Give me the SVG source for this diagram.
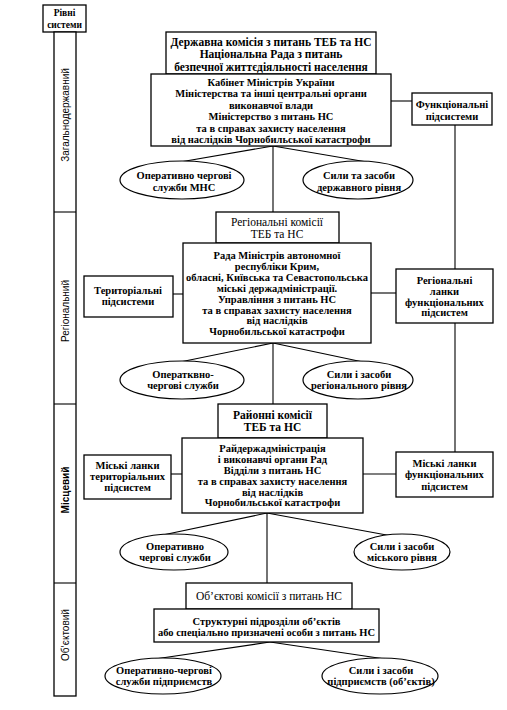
<svg xmlns="http://www.w3.org/2000/svg" width="507" height="710" viewBox="0 0 507 710">
<style>
  .box { fill: #fff; stroke: #000; stroke-width: 1.3; }
  .ell { fill: #fff; stroke: #000; stroke-width: 1.2; }
  .ln { stroke: #000; stroke-width: 1.1; fill: none; }
  text { font-family: "Liberation Serif", "Times New Roman", serif; fill: #000; text-anchor: middle; dominant-baseline: central; }
  .b { font-weight: bold; font-size: 10.5px; }
  .h { font-weight: bold; font-size: 11.5px; }
  .r { font-size: 11.5px; }
  .e { font-weight: bold; font-size: 10.5px; }
  .lv { font-family: "Liberation Sans", Arial, sans-serif; font-size: 10px; }
</style>
<rect width="507" height="710" fill="#fff"/>

<g id="levels">
  <rect class="box" x="43" y="5" width="43" height="27"/>
  <text class="b" x="64.5" y="12.5" style="font-size:9.5px">Рівні</text>
  <text class="b" x="64.5" y="25" style="font-size:9.5px">системи</text>
  <rect class="box" x="54" y="32" width="22" height="664"/>
  <line class="ln" x1="54" y1="212" x2="76" y2="212"/>
  <line class="ln" x1="54" y1="404" x2="76" y2="404"/>
  <line class="ln" x1="54" y1="583" x2="76" y2="583"/>
  <text class="lv" transform="translate(65,115) rotate(-90)">Загальнодержавний</text>
  <text class="lv" transform="translate(65,311) rotate(-90)">Регіональний</text>
  <text class="lv" transform="translate(65,490) rotate(-90)" style="font-weight:bold">Місцевий</text>
  <text class="lv" transform="translate(65,635) rotate(-90)">Об’єктовий</text>
</g>

<g id="connectors">
  <line class="ln" x1="391" y1="101" x2="412" y2="101"/>
  <line class="ln" x1="455" y1="125" x2="455" y2="269"/>
  <line class="ln" x1="455" y1="323" x2="455" y2="452"/>
  <line class="ln" x1="273" y1="146" x2="273" y2="212"/>
  <line class="ln" x1="273" y1="146" x2="180" y2="162"/>
  <line class="ln" x1="273" y1="146" x2="367" y2="162"/>
  <line class="ln" x1="173" y1="294" x2="183" y2="294"/>
  <line class="ln" x1="371" y1="293" x2="396" y2="293"/>
  <line class="ln" x1="273" y1="343" x2="273" y2="404"/>
  <line class="ln" x1="273" y1="343" x2="180" y2="362"/>
  <line class="ln" x1="273" y1="343" x2="363" y2="362"/>
  <line class="ln" x1="171" y1="474" x2="182" y2="474"/>
  <line class="ln" x1="363" y1="474" x2="396" y2="474"/>
  <line class="ln" x1="267" y1="513" x2="267" y2="583"/>
  <line class="ln" x1="267" y1="513" x2="158" y2="536"/>
  <line class="ln" x1="267" y1="513" x2="392" y2="536"/>
  <line class="ln" x1="270" y1="642" x2="155" y2="659"/>
  <line class="ln" x1="270" y1="642" x2="385" y2="659"/>
</g>

<g id="state-commission">
  <rect class="box" x="166" y="32" width="210" height="42"/>
  <text class="h" x="271" y="41.5">Державна комісія з питань ТЕБ та НС</text>
  <text class="h" x="271" y="54">Національна Рада з питань</text>
  <text class="h" x="271" y="66.5">безпечної життєдіяльності населення</text>
</g>

<g id="cabinet">
  <rect class="box" x="151" y="74" width="240" height="72"/>
  <text class="b" x="271" y="82">Кабінет Міністрів України</text>
  <text class="b" x="271" y="93.5">Міністерства та інші центральні органи</text>
  <text class="b" x="271" y="105">виконавчої влади</text>
  <text class="b" x="271" y="116.5">Міністерство з питань НС</text>
  <text class="b" x="271" y="128">та в справах захисту населення</text>
  <text class="b" x="271" y="139">від наслідків Чорнобильської катастрофи</text>
</g>

<g id="functional-subsystems">
  <rect class="box" x="412" y="93" width="80" height="32"/>
  <text class="b" x="452" y="104">Функціональні</text>
  <text class="b" x="452" y="116">підсистеми</text>
</g>

<g id="ops-mns">
  <ellipse class="ell" cx="182" cy="180" rx="62" ry="19"/>
  <text class="e" x="184" y="175">Оперативно чергові</text>
  <text class="e" x="184" y="187">служби МНС</text>
</g>

<g id="forces-state">
  <ellipse class="ell" cx="358" cy="180" rx="55" ry="19"/>
  <text class="e" x="359" y="175">Сили та засоби</text>
  <text class="e" x="359" y="187">державного рівня</text>
</g>

<g id="regional-commissions">
  <rect class="box" x="216" y="212" width="123" height="31"/>
  <text class="r" x="277" y="221.5">Регіональні комісії</text>
  <text class="r" x="277" y="234">ТЕБ та НС</text>
</g>

<g id="council">
  <rect class="box" x="183" y="243" width="188" height="100"/>
  <text class="b" x="277" y="255">Рада Міністрів автономної</text>
  <text class="b" x="277" y="266.5">республіки Крим,</text>
  <text class="b" x="277" y="277.5">обласні, Київська та Севастопольська</text>
  <text class="b" x="277" y="288.5">міські держадміністрації.</text>
  <text class="b" x="277" y="299.5">Управління з питань НС</text>
  <text class="b" x="277" y="310">та в справах захисту населення</text>
  <text class="b" x="277" y="320.5">від наслідків</text>
  <text class="b" x="277" y="331">Чорнобильської катастрофи</text>
</g>

<g id="territorial-subsystems">
  <rect class="box" x="84" y="276" width="89" height="41"/>
  <text class="b" x="128" y="290">Територіальні</text>
  <text class="b" x="128" y="301">підсистеми</text>
</g>

<g id="regional-functional">
  <rect class="box" x="396" y="269" width="97" height="54"/>
  <text class="b" x="444.5" y="280">Регіональні</text>
  <text class="b" x="444.5" y="291">ланки</text>
  <text class="b" x="444.5" y="302">функціональних</text>
  <text class="b" x="444.5" y="312.5">підсистем</text>
</g>

<g id="ops-regional">
  <ellipse class="ell" cx="182" cy="380" rx="62" ry="19"/>
  <text class="e" x="183" y="374">Оператквно-</text>
  <text class="e" x="183" y="385">чергові служби</text>
</g>

<g id="forces-regional">
  <ellipse class="ell" cx="358" cy="380" rx="55" ry="19"/>
  <text class="e" x="359" y="374">Сили і засоби</text>
  <text class="e" x="359" y="385">регіонального рівня</text>
</g>

<g id="district-commissions">
  <rect class="box" x="218" y="404" width="109" height="34"/>
  <text class="h" x="272.5" y="414.5">Районні комісії</text>
  <text class="h" x="272.5" y="427">ТЕБ та НС</text>
</g>

<g id="district-admin">
  <rect class="box" x="182" y="438" width="181" height="75"/>
  <text class="b" x="272.5" y="448">Райдержадміністрація</text>
  <text class="b" x="272.5" y="459">і виконавчі органи Рад</text>
  <text class="b" x="272.5" y="470">Відділи з питань НС</text>
  <text class="b" x="272.5" y="481">та в справах захисту населення</text>
  <text class="b" x="272.5" y="492">від наслідків</text>
  <text class="b" x="272.5" y="502.5">Чорнобильської катастрофи</text>
</g>

<g id="city-territorial">
  <rect class="box" x="84" y="455" width="87" height="44"/>
  <text class="b" x="127.5" y="465.5">Міські ланки</text>
  <text class="b" x="127.5" y="476.5">територіальних</text>
  <text class="b" x="127.5" y="487.5">підсистем</text>
</g>

<g id="city-functional">
  <rect class="box" x="396" y="452" width="97" height="45"/>
  <text class="b" x="444.5" y="463">Міські ланки</text>
  <text class="b" x="444.5" y="474.5">функціональних</text>
  <text class="b" x="444.5" y="486">підсистем</text>
</g>

<g id="ops-city">
  <ellipse class="ell" cx="174" cy="552" rx="54" ry="18"/>
  <text class="e" x="175" y="546">Оперативно</text>
  <text class="e" x="175" y="557">чергові служби</text>
</g>

<g id="forces-city">
  <ellipse class="ell" cx="402" cy="552" rx="48" ry="18"/>
  <text class="e" x="402" y="546">Сили і засоби</text>
  <text class="e" x="402" y="557">міського рівня</text>
</g>

<g id="object-commissions">
  <rect class="box" x="186" y="583" width="166" height="26"/>
  <text class="r" x="269" y="596">Об’єктові комісії з питань НС</text>
</g>

<g id="structural-units">
  <rect class="box" x="154" y="609" width="225" height="33"/>
  <text class="b" x="266.5" y="621">Структурні підрозділи об’єктів</text>
  <text class="b" x="266.5" y="632">або спеціально призначені особи з питань НС</text>
</g>

<g id="ops-enterprise">
  <ellipse class="ell" cx="163" cy="676" rx="58" ry="18"/>
  <text class="e" x="164" y="670">Оперативно-чергові</text>
  <text class="e" x="164" y="681">служби підприємств</text>
</g>

<g id="forces-enterprise">
  <ellipse class="ell" cx="380" cy="676" rx="58" ry="18"/>
  <text class="e" x="381" y="670">Сили і засоби</text>
  <text class="e" x="381" y="681">підприємств (об’єктів)</text>
</g>
</svg>
